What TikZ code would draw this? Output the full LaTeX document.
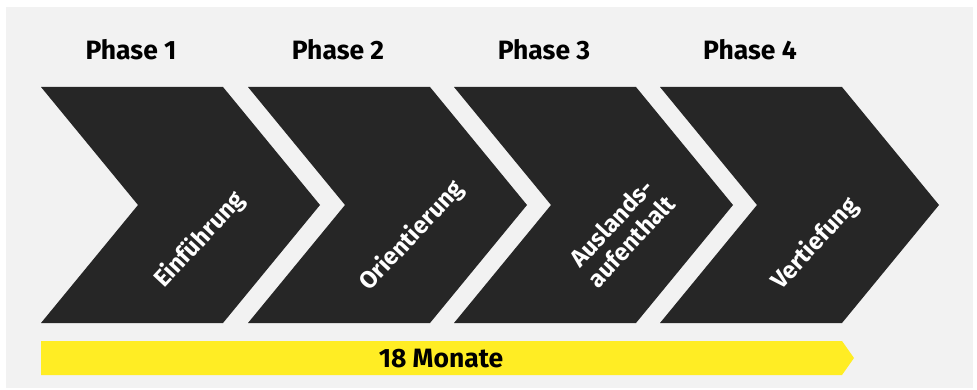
\documentclass[tikz,border=0pt]{standalone}
\usepackage{fontspec}
\setmainfont{Fira Sans}
\definecolor{bggray}{HTML}{F2F2F2}
\definecolor{chevdark}{HTML}{262626}
\definecolor{baryellow}{HTML}{FFED24}
\begin{document}
\begin{tikzpicture}[x=1pt,y=-1pt,
  chev/.style={fill=chevdark,draw=none},
  phaselabel/.style={font=\fontsize{26.5}{30}\selectfont\bfseries,text=black,anchor=center,inner sep=0pt},
  chevlabel/.style={font=\fontsize{24}{27}\selectfont\bfseries,text=white,rotate=47,align=center,inner sep=0pt},
  barlabel/.style={font=\fontsize{26.5}{30}\selectfont\bfseries,text=black,inner sep=0pt}]
\useasboundingbox (0,0) rectangle (977,390);
\fill[white] (0,0) rectangle (977,390);
\fill[bggray] (6,7) rectangle (973,388);
% chevrons
\foreach \L in {41,248,454,660}{
  \fill[chev] (\L,87) -- (\L+182,87) -- (\L+279,205) -- (\L+182,323) -- (\L,323) -- (\L+97,205) -- cycle;
}
% phase labels
\node[phaselabel] (p1) at (131,50) {Phase 1};
\node[phaselabel] (p2) at (338,50) {Phase 2};
\node[phaselabel] (p3) at (544,50) {Phase 3};
\node[phaselabel] (p4) at (750,50) {Phase 4};
% chevron labels
\node[chevlabel] (c1) at (200,240) {Einführung};
\node[chevlabel] (c2) at (412,236) {Orientierung};
\node[chevlabel] (c3) at (621,232) {Auslands-\\aufenthalt};
\node[chevlabel] (c4) at (815,244) {Vertiefung};
% yellow bar
\fill[baryellow] (41,341) -- (842,341) -- (854,358) -- (842,375) -- (41,375) -- cycle;
\node[barlabel] (bar) at (441,359) {18 Monate};
\end{tikzpicture}
\end{document}
